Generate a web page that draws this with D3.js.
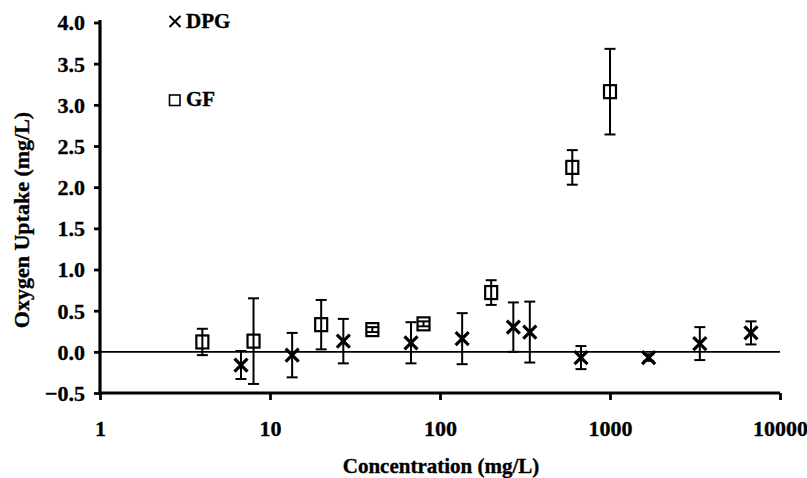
<!DOCTYPE html>
<html><head><meta charset="utf-8">
<script src="https://cdn.jsdelivr.net/npm/d3@7"></script>
<style>body{margin:0;background:#fff}svg{display:block}</style>
</head><body>
<svg id="c" width="807" height="478"></svg>
<script>
const gfConc = [4, 8, 20, 40, 80, 200, 600, 1000];
const gfMean = [0.12, 0.13, 0.33, 0.27, 0.34, 0.72, 2.24, 3.16];
const gfErr  = [0.16, 0.52, 0.30, 0.03, 0.03, 0.15, 0.21, 0.52];
const dpgConc = [6.75, 13.5, 27, 67.5, 135, 270, 337.5, 675, 1687.5, 3375, 6750];
const dpgMean = [-0.16, -0.04, 0.13, 0.11, 0.16, 0.30, 0.24, -0.07, -0.07, 0.10, 0.23];
const dpgErr  = [0.17, 0.27, 0.27, 0.25, 0.31, 0.30, 0.37, 0.14, 0.04, 0.20, 0.14];
const xTicks = [1, 10, 100, 1000, 10000];
const yTicks = [-0.5, 0, 0.5, 1.0, 1.5, 2.0, 2.5, 3.0, 3.5, 4.0];

const svg = d3.select("#c");
const font = "'Liberation Serif','Times New Roman',serif";
const x = d3.scaleLog().domain([1, 10000]).range([100, 780]);
const y = d3.scaleLinear().domain([-0.5, 4.0]).range([393, 22.5]);

function styleText(sel, size){
  sel.attr("font-family",font).attr("font-weight","bold").attr("font-size",size)
     .attr("fill","#000").attr("stroke","#000").attr("stroke-width",0.35);
}

// axes
const yAxis = svg.append("g").attr("transform","translate(100,0)")
  .call(d3.axisLeft(y).tickValues(yTicks).tickFormat(d3.format(".1f")).tickSize(6).tickPadding(9));
const xAxis = svg.append("g").attr("transform","translate(0,393)")
  .call(d3.axisBottom(x).tickValues(xTicks).tickFormat(d => d3.format("d")(d)).tickSize(7).tickPadding(20));
[yAxis, xAxis].forEach(g => {
  g.select(".domain").attr("stroke","#000").attr("stroke-width",3.2);
  g.selectAll(".tick line").attr("stroke","#000").attr("stroke-width",2.8);
  styleText(g.selectAll("text"), 22);
});
yAxis.selectAll("text").attr("dy","0.34em");
yAxis.select(".domain").attr("d","M0,20V394.5");
xAxis.select(".domain").attr("d","M98.5,0H780");

// zero line
svg.append("line").attr("x1",100).attr("x2",780).attr("y1",y(0)).attr("y2",y(0))
  .attr("stroke","#000").attr("stroke-width",1.6);

function errbars(conc, mean, err){
  const g = svg.append("g").attr("stroke","#000").attr("stroke-width",2);
  conc.forEach((c,i)=>{
    const cx = x(c), t = y(mean[i]+err[i]), b = y(mean[i]-err[i]);
    g.append("line").attr("x1",cx).attr("x2",cx).attr("y1",t).attr("y2",b);
    g.append("line").attr("x1",cx-5.5).attr("x2",cx+5.5).attr("y1",t).attr("y2",t);
    g.append("line").attr("x1",cx-5.5).attr("x2",cx+5.5).attr("y1",b).attr("y2",b);
  });
}
errbars(gfConc, gfMean, gfErr);
errbars(dpgConc, dpgMean, dpgErr);

// GF squares
svg.append("g").selectAll("rect").data(gfConc).join("rect")
  .attr("x", d => x(d)-6).attr("y", (d,i) => y(gfMean[i])-6.5)
  .attr("width",12).attr("height",13)
  .attr("fill","none").attr("stroke","#000").attr("stroke-width",2.2);

// DPG crosses
const cross = (cx, cy, s) => `M${cx-s},${cy-s}L${cx+s},${cy+s}M${cx-s},${cy+s}L${cx+s},${cy-s}`;
svg.append("g").selectAll("path").data(dpgConc).join("path")
  .attr("d", (d,i) => cross(x(d), y(dpgMean[i]), 6.5))
  .attr("stroke","#000").attr("stroke-width",3.2).attr("fill","none");

// legend
svg.append("path").attr("d", cross(175, 21.5, 5.5)).attr("stroke","#000").attr("stroke-width",2).attr("fill","none");
styleText(svg.append("text").attr("x",186).attr("y",28).text("DPG"), 21);
svg.append("rect").attr("x",169.5).attr("y",95).attr("width",10.5).attr("height",10.5)
  .attr("fill","none").attr("stroke","#000").attr("stroke-width",1.6);
styleText(svg.append("text").attr("x",186).attr("y",106).text("GF"), 21);

// titles
styleText(svg.append("text").attr("x",441).attr("y",473).attr("text-anchor","middle").text("Concentration (mg/L)"), 21);
styleText(svg.append("text").attr("transform","translate(29,220) rotate(-90)").attr("text-anchor","middle").text("Oxygen Uptake (mg/L)"), 22);
</script>
</body></html>
